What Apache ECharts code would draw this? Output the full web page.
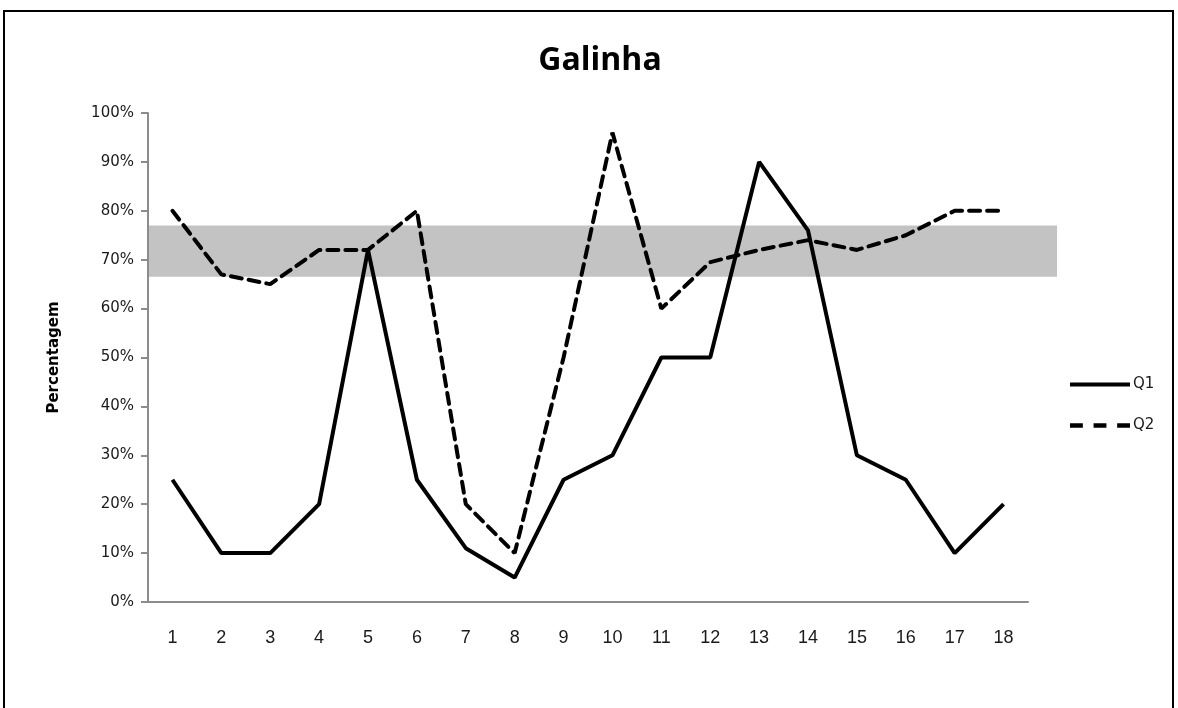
<!DOCTYPE html>
<html>
<head>
<meta charset="utf-8">
<script src="https://cdn.jsdelivr.net/npm/echarts@6/dist/echarts.min.js"></script>
<style>
  html, body { margin: 0; padding: 0; background: #fff; }
  #chart { width: 1178px; height: 708px; }
</style>
</head>
<body>
<div id="chart"></div>
<script>
// Questions 1..18, share of correct answers (%) for Q1 and Q2
const categories = ['1','2','3','4','5','6','7','8','9','10','11','12','13','14','15','16','17','18'];
const q1 = [25, 10, 10, 20, 72, 25, 11, 5, 25, 30, 50, 50, 90, 76, 30, 25, 10, 20];
const q2 = [80, 67, 65, 72, 72, 80, 20, 10, 50, 96, 60, 69.5, 72, 74, 72, 75, 80, 80];
// Reference band (%)
const bandRange = [66.5, 77];
const yTicks = [0, 10, 20, 30, 40, 50, 60, 70, 80, 90, 100];

const chart = echarts.init(document.getElementById('chart'), null, { renderer: 'canvas' });

const option = {
  animation: false,
  backgroundColor: '#fff',
  title: {
    text: 'Galinha',
    left: 595,
    top: 40,
    textAlign: 'center',
    textStyle: { fontFamily: 'Open Sans', fontWeight: 'bold', fontSize: 32, color: '#000' }
  },
  grid: { left: 148, right: 150, top: 113, bottom: 106, containLabel: false },
  legend: {
    orient: 'vertical',
    left: 1065,
    top: 372,
    itemWidth: 60,
    itemHeight: 16,
    itemGap: 26,
    textStyle: { fontFamily: 'DejaVu Sans', fontSize: 15, color: '#1a1a1a', padding: [0, 0, 0, -2] },
    data: [
      { name: 'Q1', icon: 'path://M0,0 L60,0 L60,4 L0,4 Z' },
      { name: 'Q2', icon: 'path://M0,0 L12,0 L12,4 L0,4 Z M22,0 L34,0 L34,4 L22,4 Z M44,0 L56,0 L56,4 L44,4 Z' }
    ]
  },
  xAxis: {
    type: 'category',
    data: categories,
    boundaryGap: true,
    axisLine: { lineStyle: { color: '#8c8c8c', width: 2 } },
    axisTick: { show: false },
    axisLabel: { margin: 27, fontFamily: 'Liberation Sans Narrow, Liberation Sans', fontSize: 18, color: '#1a1a1a' },
    splitLine: { show: false }
  },
  yAxis: {
    type: 'value',
    min: 0,
    max: 100,
    interval: 10,
    name: 'Percentagem',
    nameLocation: 'middle',
    nameGap: 86,
    nameRotate: 90,
    nameTextStyle: { fontFamily: 'DejaVu Sans', fontWeight: 'bold', fontSize: 15, color: '#000' },
    axisLine: { show: true, lineStyle: { color: '#8c8c8c', width: 2 } },
    axisTick: { show: true, inside: false, length: 7, lineStyle: { color: '#8c8c8c', width: 2 } },
    axisLabel: {
      margin: 14,
      fontFamily: 'DejaVu Sans',
      fontSize: 15,
      color: '#1a1a1a',
      formatter: v => (yTicks.indexOf(v) >= 0 ? v + '%' : '')
    },
    splitLine: { show: false }
  },
  series: [
    {
      name: 'Q1',
      type: 'line',
      data: q1,
      symbol: 'none',
      z: 3,
      lineStyle: { color: '#000', width: 4, type: 'solid' },
      itemStyle: { color: '#000' }
    },
    {
      name: 'Q2',
      type: 'line',
      data: q2,
      symbol: 'none',
      z: 3,
      lineStyle: { color: '#000', width: 4, type: [11, 7], cap: 'round' },
      itemStyle: { color: '#000' }
    }
  ]
};

chart.setOption(option);

// Shaded band across the plot, extending a little past the last category
function drawBand() {
  const yTop = chart.convertToPixel({ yAxisIndex: 0 }, bandRange[1]);
  const yBot = chart.convertToPixel({ yAxisIndex: 0 }, bandRange[0]);
  const grid = chart.getModel().getComponent('grid').coordinateSystem.getRect();
  const xStart = grid.x;
  const xEnd = grid.x + grid.width + 29;
  chart.setOption({
    graphic: [
      {
        id: 'band',
        type: 'rect',
        z: 0,
        silent: true,
        shape: { x: xStart, y: yTop, width: xEnd - xStart, height: yBot - yTop },
        style: { fill: '#c3c3c3' }
      },
      {
        id: 'frame',
        type: 'rect',
        z: 0,
        silent: true,
        shape: { x: 4, y: 11, width: 1169, height: 720 },
        style: { fill: null, stroke: '#000', lineWidth: 2 }
      }
    ]
  });
}
drawBand();
</script>
</body>
</html>
